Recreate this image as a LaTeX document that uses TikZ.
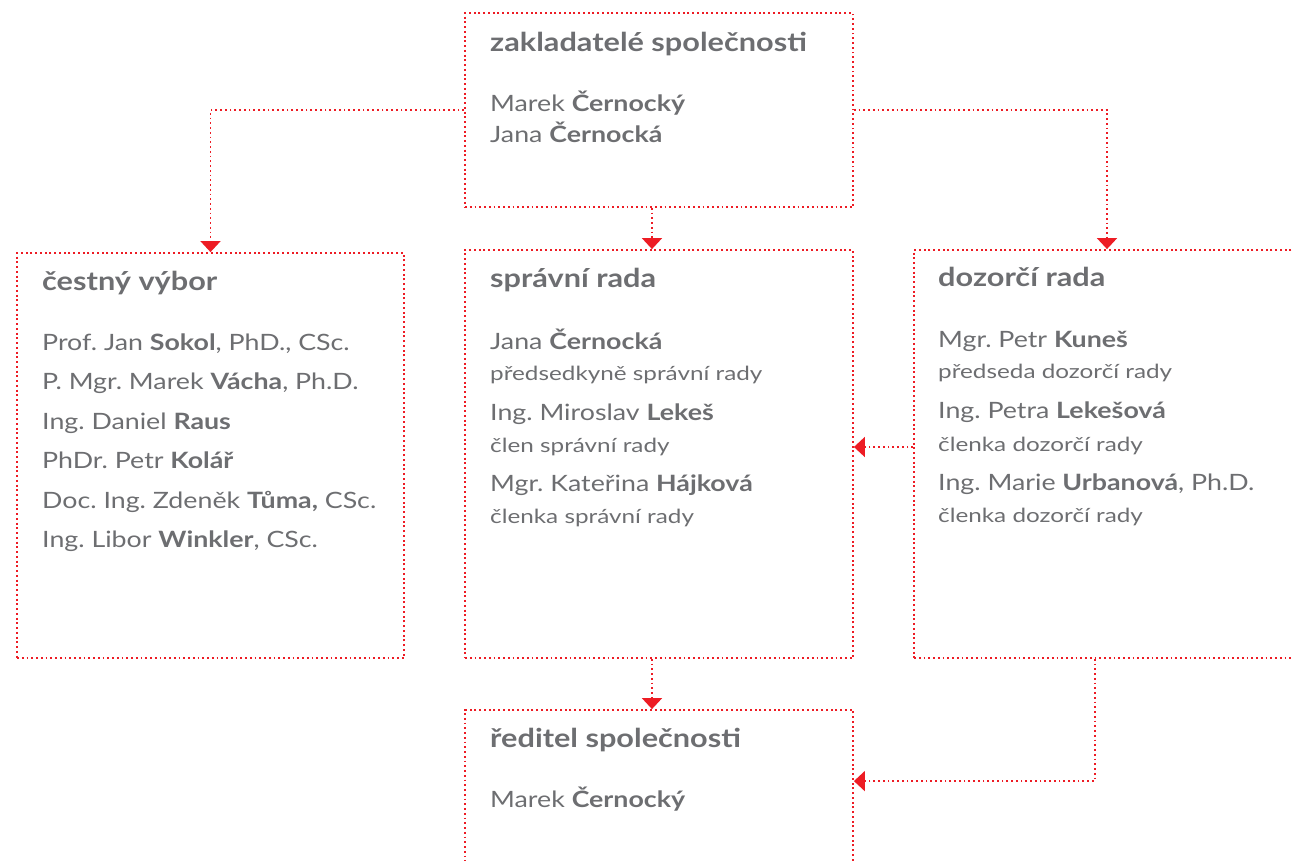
\documentclass[tikz,border=0pt]{standalone}
\usepackage{fontspec}
\setmainfont{Lato}
\newfontfamily\titfam{Lato}[FakeStretch=1.18]
\newfontfamily\regfam{Lato}[FakeStretch=1.19]
\newfontfamily\subfam{Lato}[FakeStretch=1.245]
\usetikzlibrary{arrows.meta}
\definecolor{tx}{HTML}{6D6E71}
\definecolor{rd}{HTML}{ED1C24}
\newcommand\fT{\titfam\fontsize{26}{30}\selectfont\bfseries}
\newcommand\fN{\regfam\fontsize{22.5}{27}\selectfont}
\newcommand\fS{\subfam\fontsize{19.5}{23}\selectfont}
\frenchspacing
\begin{document}
\begin{tikzpicture}[x=1pt,y=-1pt,
  dots/.style={draw=rd,line width=1.8pt,dash pattern=on 1.8pt off 2.95pt},
  box/.style={dots,inner sep=0pt,rectangle},
  conn/.style={dots,-{Triangle[width=20pt,length=11pt,fill=rd]}},
  txt/.style={anchor=base west,inner sep=0pt,text=tx}]
\useasboundingbox (0,0) rectangle (1294,861);
\clip (0,0) rectangle (1294,861);
% boxes
\node[box,minimum width=388pt,minimum height=194pt] (top) at (659,110) {};
\node[box,minimum width=387pt,minimum height=405pt] (honor) at (210.5,455.5) {};
\node[box,minimum width=388pt,minimum height=408pt] (sprav) at (659,454) {};
\node[box,minimum width=386pt,minimum height=408pt] (dozor) at (1107,454) {};
\node[box,minimum width=388pt,minimum height=190pt] (reditel) at (659,805) {};
% connectors
\draw[conn] (top.west) -| (honor.north);
\draw[conn] (top.east) -| (dozor.north);
\draw[conn] ([xshift=-7pt]top.south) -- ([xshift=-7pt]sprav.north);
\draw[conn] ([yshift=7pt]dozor.west) -- ([yshift=7pt]sprav.east);
\draw[conn] ([xshift=-7pt]sprav.south) -- ([xshift=-7pt]reditel.north);
\draw[conn] ([xshift=-12pt]dozor.south) |- ([yshift=-72pt]reditel.north east);
% top texts
\node[txt] (t0) at (490,52) {\fT zakladatelé společnosti};
\node[txt] (t1) at (490,112) {\fN Marek \textbf{Černocký}};
\node[txt] (t2) at (490,143) {\fN Jana \textbf{Černocká}};
% honor texts
\node[txt] (h0) at (42,290.5) {\fT čestný výbor};
\node[txt] (h1) at (42,350) {\fN Prof. Jan \textbf{Sokol}, PhD., CSc.};
\node[txt] (h2) at (42,389.5) {\fN P. Mgr. Marek \textbf{Vácha}, Ph.D.};
\node[txt] (h3) at (42,429) {\fN Ing. Daniel \textbf{Raus}};
\node[txt] (h4) at (42,468.5) {\fN PhDr. Petr \textbf{Kolář}};
\node[txt] (h5) at (42,508) {\fN Doc. Ing. Zdeněk \textbf{Tůma,} CSc.};
\node[txt] (h6) at (42,547.5) {\fN Ing. Libor \textbf{Winkler}, CSc.};
% sprav texts
\node[txt] (s0) at (490,288) {\fT správní rada};
\node[txt] (s1) at (490,349) {\fN Jana \textbf{Černocká}};
\node[txt] (s2) at (490,380) {\fS předsedkyně správní rady};
\node[txt] (s3) at (490,420) {\fN Ing. Miroslav \textbf{Lekeš}};
\node[txt] (s4) at (490,452) {\fS člen správní rady};
\node[txt] (s5) at (490,491) {\fN Mgr. Kateřina \textbf{Hájková}};
\node[txt] (s6) at (490,523) {\fS členka správní rady};
% dozor texts
\node[txt] (d0) at (938,287) {\fT dozorčí rada};
\node[txt] (d1) at (938,347) {\fN Mgr. Petr \textbf{Kuneš}};
\node[txt] (d2) at (938,378) {\fS předseda dozorčí rady};
\node[txt] (d3) at (938,418) {\fN Ing. Petra \textbf{Lekešová}};
\node[txt] (d4) at (938,451) {\fS členka dozorčí rady};
\node[txt] (d5) at (938,490) {\fN Ing. Marie \textbf{Urbanová}, Ph.D.};
\node[txt] (d6) at (938,522) {\fS členka dozorčí rady};
% reditel texts
\node[txt] (r0) at (490,747) {\fT ředitel společnosti};
\node[txt] (r1) at (490,807) {\fN Marek \textbf{Černocký}};
\end{tikzpicture}
\end{document}
